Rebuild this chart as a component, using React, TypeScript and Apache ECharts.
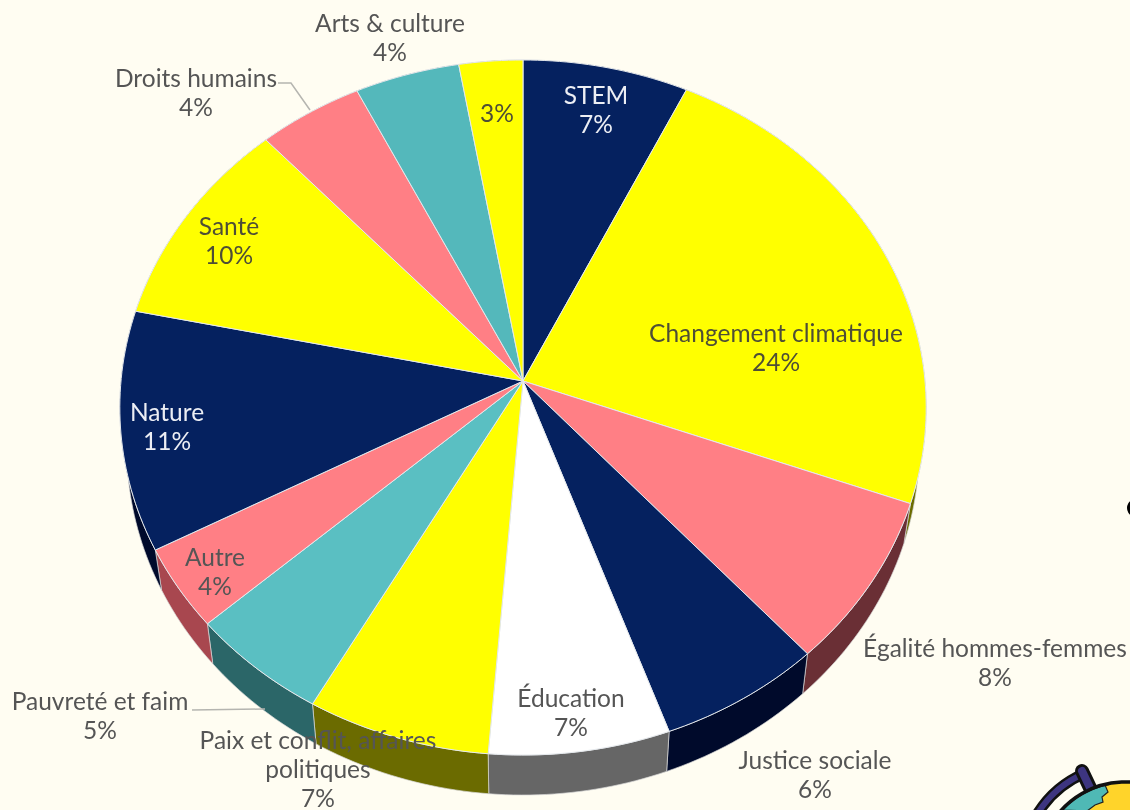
import React, { useEffect, useRef } from "react";
import * as echarts from "echarts";

const categories = [
  "STEM",
  "Changement climatique",
  "Égalité hommes-femmes",
  "Justice sociale",
  "Éducation",
  "Paix et conflit, affaires\npolitiques",
  "Pauvreté et faim",
  "Autre",
  "Nature",
  "Santé",
  "Droits humains",
  "Arts & culture",
  "",
];
const values = [7.15, 23.45, 7.75, 6.15, 6.75, 6.85, 5.25, 3.8, 11.1, 9.9, 4.53, 4.52, 2.75];
const percentLabels = ["7%", "24%", "8%", "6%", "7%", "7%", "5%", "4%", "11%", "10%", "4%", "4%", "3%"];

const topColors = ["#05215F", "#FFFF00", "#FF7F85", "#05215F", "#FFFFFF", "#FFFF00", "#5ABFC2", "#FF7F85", "#05215F", "#FFFF00", "#FF7F85", "#54B8BB", "#FFFF00"];
const wallColors = ["#000A2B", "#6B6B00", "#6A2F35", "#000A2B", "#666666", "#6B6B00", "#2B6668", "#A8474F", "#000A2B", "#6B6B00", "#6A2F35", "#2B6668", "#6B6B00"];
const labelColors = ["#ECEEF4", "#4E4E36", "#555555", "#555555", "#555555", "#555555", "#555555", "#555555", "#ECEEF4", "#4E4E36", "#555555", "#555555", "#4E4E36"];
const labelCentres: [number, number][] = [
  [596, 109], [776, 347], [995, 662], [815, 774], [571, 712], [318, 768], [100, 715],
  [215, 571], [167, 426], [229, 240], [196, 92], [390, 37], [497, 112],
];

// projection of the tilted disc
const APEX_X = 523;
const APEX_Y = 381;
const K = 0.0763;
const A = 345.5;
const B = 402;
const DEPTH = 40;
const LOWER_SCALE = 0.983;
const FONT = '24.5px Lato, "Noto Sans", sans-serif';
const total = values.reduce((s, v) => s + v, 0);

function rim(t: number): [number, number] {
  const u = Math.cos(t);
  const v = Math.sin(t);
  const d = 1 + K * u;
  return [APEX_X + (B * v) / d, APEX_Y - (A * u) / d];
}
function lowerRim(t: number): [number, number] {
  const [x, y] = rim(t);
  return [APEX_X + (x - APEX_X) * LOWER_SCALE, y + DEPTH];
}
function sliceAngles(i: number): [number, number] {
  let before = 0;
  for (let k = 0; k < i; k++) before += values[k];
  return [(before / total) * Math.PI * 2, ((before + values[i]) / total) * Math.PI * 2];
}
function arcPoints(from: number, to: number, f: (t: number) => [number, number]) {
  const n = Math.max(8, Math.ceil((to - from) / 0.02));
  const pts: [number, number][] = [];
  for (let j = 0; j <= n; j++) pts.push(f(from + ((to - from) * j) / n));
  return pts;
}

// globe decoration, bottom right
const GLOBE_X = 1125;
const GLOBE_Y = 868;
const GLOBE_R = 86;
const deg = (d: number) => (d * Math.PI) / 180;
const tealEdge: [number, number][] = [
  [1105, 785], [1108, 792], [1102, 797], [1103, 802], [1095, 805], [1087, 811],
];
const tealRim: [number, number][] = [];
for (let a = -137; a <= -101; a += 2) {
  tealRim.push([GLOBE_X + (GLOBE_R - 1) * Math.cos(deg(a)), GLOBE_Y + (GLOBE_R - 1) * Math.sin(deg(a))]);
}

export default function App() {
  const ref = useRef<HTMLDivElement>(null);
  useEffect(() => {
    document.body.style.margin = "0";
    const chart = echarts.init(ref.current!, undefined, { renderer: "svg" });
    const seriesData = values.map((v, i) => ({ name: categories[i] || percentLabels[i], value: v }));
    chart.setOption({
      animation: false,
      backgroundColor: "#FFFDF2",
      series: [
        {
          type: "custom",
          name: "walls",
          coordinateSystem: "none",
          silent: true,
          z: 1,
          data: seriesData,
          renderItem: (p: any) => {
            const [a, b] = sliceAngles(p.dataIndex);
            const up = arcPoints(a, b, rim);
            const low = arcPoints(a, b, lowerRim).reverse();
            return {
              type: "polygon",
              shape: { points: [...up, ...low] },
              style: { fill: wallColors[p.dataIndex], stroke: "#D8D8D8", lineWidth: 0.7, lineJoin: "round" },
            };
          },
        },
        {
          type: "custom",
          name: "slices",
          coordinateSystem: "none",
          silent: true,
          z: 2,
          data: seriesData,
          renderItem: (p: any) => {
            const [a, b] = sliceAngles(p.dataIndex);
            return {
              type: "polygon",
              shape: { points: [[APEX_X, APEX_Y], ...arcPoints(a, b, rim)] },
              style: { fill: topColors[p.dataIndex], stroke: "#E4E8EC", lineWidth: 1, lineJoin: "round" },
            };
          },
        },
        {
          type: "custom",
          name: "labels",
          coordinateSystem: "none",
          silent: true,
          z: 5,
          data: seriesData,
          renderItem: (p: any) => {
            const i = p.dataIndex;
            const text = categories[i] ? `${categories[i]}\n${percentLabels[i]}` : percentLabels[i];
            return {
              type: "text",
              style: {
                x: labelCentres[i][0],
                y: labelCentres[i][1],
                text,
                fill: labelColors[i],
                font: FONT,
                lineHeight: 29,
                align: "center",
                verticalAlign: "middle",
              },
            };
          },
        },
      ],
      graphic: [
        { type: "polyline", z: 4, silent: true, shape: { points: [[278, 83], [291, 83], [310, 110]] }, style: { stroke: "#B5B5B0", lineWidth: 1.5, fill: "none" } },
        { type: "polyline", z: 4, silent: true, shape: { points: [[192, 710], [265, 709]] }, style: { stroke: "#B5B5B0", lineWidth: 1.5, fill: "none" } },
        { type: "circle", z: 4, silent: true, shape: { cx: 1136, cy: 508, r: 9 }, style: { fill: "#000" } },
        { type: "arc", z: 3, silent: true, shape: { cx: GLOBE_X, cy: GLOBE_Y, r: 103, startAngle: deg(-150), endAngle: deg(-113), clockwise: true }, style: { stroke: "#111", lineWidth: 11, fill: "none" } },
        { type: "arc", z: 3, silent: true, shape: { cx: GLOBE_X, cy: GLOBE_Y, r: 103, startAngle: deg(-150), endAngle: deg(-113), clockwise: true }, style: { stroke: "#3D3580", lineWidth: 6, fill: "none" } },
        { type: "line", z: 3, silent: true, shape: { x1: 1082, y1: 771, x2: 1092, y2: 792 }, style: { stroke: "#111", lineWidth: 14, lineCap: "round" } },
        { type: "line", z: 3, silent: true, shape: { x1: 1082, y1: 771, x2: 1092, y2: 792 }, style: { stroke: "#3D3580", lineWidth: 8, lineCap: "round" } },
        { type: "circle", z: 3, silent: true, shape: { cx: GLOBE_X, cy: GLOBE_Y, r: GLOBE_R }, style: { fill: "#FFD42A" } },
        { type: "polygon", z: 3, silent: true, shape: { points: [...tealRim, ...tealEdge] }, style: { fill: "#4FB9B5", stroke: "#222", lineWidth: 1.2 } },
        { type: "circle", z: 3, silent: true, shape: { cx: GLOBE_X, cy: GLOBE_Y, r: GLOBE_R }, style: { fill: "none", stroke: "#111", lineWidth: 3.5 } },
      ],
    });
    return () => chart.dispose();
  }, []);
  return <div ref={ref} style={{ width: 1130, height: 810, filter: "blur(0.7px)" }} />;
}
